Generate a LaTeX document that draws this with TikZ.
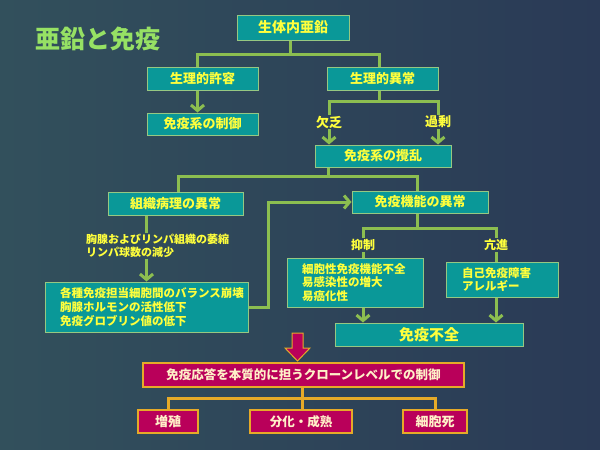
\documentclass[tikz,border=0pt]{standalone}
\usepackage{fontspec}
\setmainfont{Noto Sans CJK JP}
\usetikzlibrary{arrows.meta,calc}
\definecolor{bgleft}{RGB}{50,80,92}
\definecolor{bgright}{RGB}{42,58,86}
\definecolor{tealc}{RGB}{10,152,152}
\definecolor{bordc}{RGB}{150,200,130}
\definecolor{ytext}{RGB}{255,255,60}
\definecolor{lgreen}{RGB}{140,190,80}
\definecolor{titlec}{RGB}{150,225,100}
\definecolor{magc}{RGB}{185,0,90}
\definecolor{orangec}{RGB}{230,170,40}
\definecolor{ptext}{RGB}{255,240,200}
\newcommand{\fs}[1]{\bfseries\fontsize{#1}{#1}\selectfont}
\tikzset{
  tbox/.style={draw=bordc, fill=tealc, line width=1pt, text=ytext, font=\fs{13}, inner sep=0pt},
  mlbox/.style={tbox, align=left, font=\bfseries\fontsize{11.5}{14}\selectfont},
  mbox/.style={draw=orangec, fill=magc, line width=1.5pt, text=ptext, font=\fs{12.5}, inner sep=0pt},
  conn/.style={draw=lgreen, line width=3pt},
  arr/.style={conn, -{Straight Barb[length=5.5pt,width=13pt]}},
  mconn/.style={draw=orangec, line width=3pt},
  lbl/.style={text=ytext, font=\fs{13}, inner sep=1pt},
}
\begin{document}
\begin{tikzpicture}[x=1pt,y=-1pt]
\shade[left color=bgleft, right color=bgright] (0,0) rectangle (600,450);
\useasboundingbox (0,0) rectangle (600,450);

\node[text=titlec, font=\fs{25}, anchor=west, inner sep=0pt] (title) at (35,39) {亜鉛と免疫};

\node[tbox, font=\fs{14}, minimum width=112pt, minimum height=25pt] (a) at (293,27.5) {生体内亜鉛};
\node[tbox, minimum width=111pt, minimum height=23pt] (b) at (202.5,78.5) {生理的許容};
\node[tbox, minimum width=111pt, minimum height=22pt] (d) at (202.5,124) {免疫系の制御};
\node[tbox, minimum width=111pt, minimum height=23pt] (c) at (382.5,78.5) {生理的異常};
\node[lbl] (k1) at (329,122) {欠乏};
\node[lbl] (k2) at (438,122) {過剰};
\node[tbox, minimum width=136pt, minimum height=22pt] (e) at (383,156) {免疫系の攪乱};
\node[tbox, minimum width=135pt, minimum height=23pt] (f) at (175.5,203.5) {組織病理の異常};
\node[tbox, minimum width=136pt, minimum height=22pt] (g) at (420,202) {免疫機能の異常};
\node[lbl, font=\bfseries\fontsize{11}{12.5}\selectfont, align=left, anchor=west] (t1) at (85,246) {胸腺およびリンパ組織の萎縮\\リンパ球数の減少};
\node[mlbox, text width=173pt, inner xsep=15pt, minimum height=50pt] (h) at (146.5,307) {各種免疫担当細胞間のバランス崩壊\\胸腺ホルモンの活性低下\\免疫グロブリン値の低下};
\node[lbl, font=\fs{12}] (k3) at (363,245) {抑制};
\node[lbl, font=\fs{12}] (k4) at (496,245) {亢進};
\node[mlbox, font=\bfseries\fontsize{11.5}{13.5}\selectfont, text width=106pt, inner xsep=15pt, minimum height=49pt] (i) at (355,282.5) {細胞性免疫機能不全\\易感染性の増大\\易癌化性};
\node[mlbox, font=\bfseries\fontsize{11.5}{13.5}\selectfont, text width=80pt, inner xsep=16pt, minimum height=35pt] (j) at (502,279.5) {自己免疫障害\\アレルギー};
\node[tbox, font=\fs{15}, minimum width=188pt, minimum height=23pt] (k) at (429,334.5) {免疫不全};

\node[mbox, minimum width=321pt, minimum height=24pt] (m) at (303.5,375) {免疫応答を本質的に担うクローンレベルでの制御};
\node[mbox, font=\fs{13}, minimum width=60pt, minimum height=23pt] (n1) at (168,421.5) {増殖};
\node[mbox, font=\fs{12.5}, minimum width=102pt, minimum height=23pt] (n2) at (301,421.5) {分化・成熟};
\node[mbox, font=\fs{13}, minimum width=64pt, minimum height=23pt] (n3) at (435,421.5) {細胞死};

% red block arrow
\draw[draw=orangec, fill=magc, line width=1pt, line join=miter]
  (292,333) -- (303,333) -- (303,348) -- (310,348) -- (297.5,361) -- (285,348) -- (292,348) -- cycle;

% connectors
\coordinate (j0) at (290,54);
\draw[conn] ([xshift=-3pt]a.south) -- (j0);
\draw[conn] ([xshift=-5pt]b.north) |- (j0) -| ([xshift=-3.5pt]c.north);
\draw[arr] ([xshift=-5pt]b.south) -- ([xshift=-5pt]d.north);

\coordinate (j1) at (379,101);
\draw[conn] ([xshift=-3.5pt]c.south) -- (j1);
\draw[conn] (k1.north) |- (j1) -| (k2.north);
\draw[arr] (k1.south) -- (k1.south |- e.north);
\draw[arr] (k2.south) -- (k2.south |- e.north);

\coordinate (j2) at (328,176);
\draw[conn] (e.south -| j2) -- (j2);
\draw[conn] ([xshift=2.5pt]f.north) |- (j2) -| ([xshift=-3pt]g.north);

\draw[conn] (f.south -| h.north) -- (h.north |- t1.north);
\draw[arr] (h.north |- t1.south) -- (h.north);

\coordinate (j3) at (268,250);
\draw[arr] (h.east) -| (j3) |- (g.west);

\coordinate (j5) at (417,228);
\draw[conn] ([xshift=-3pt]g.south) -- (j5);
\draw[conn] (k3.north) |- (j5) -| (k4.north);
\draw[conn] (k3.south) -- (k3.south |- i.north);
\draw[conn] (k4.south) -- (k4.south |- j.north);
\draw[arr] (k3 |- i.south) -- (k3 |- k.north);
\draw[arr] (k4 |- j.south) -- (k4 |- k.north);

\coordinate (j4) at (302,398);
\draw[mconn] (m.south -| j4) -- (n2.north -| j4);
\draw[mconn] (n1.north) |- (j4) -| (n3.north);
\end{tikzpicture}
\end{document}
